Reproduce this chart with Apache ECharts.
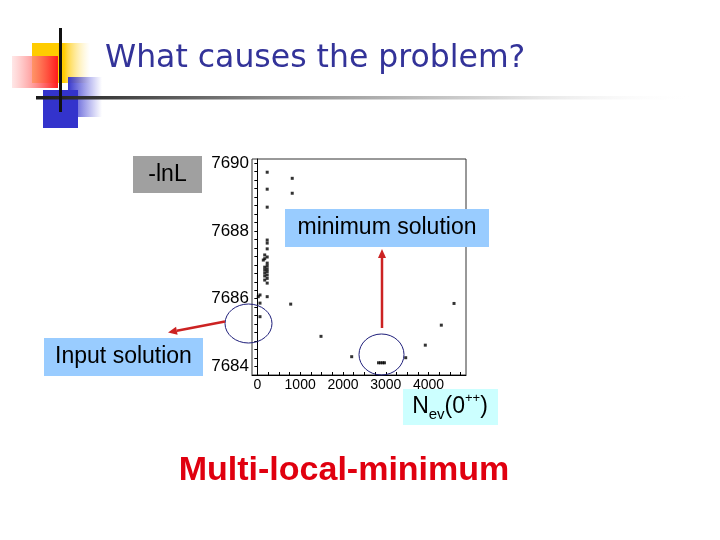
<!DOCTYPE html>
<html>
<head>
<meta charset="utf-8">
<script src="https://cdn.jsdelivr.net/npm/echarts@6/dist/echarts.min.js"></script>
<style>html,body{margin:0;padding:0;background:#fff;}#c{width:720px;height:540px;}</style>
</head>
<body>
<div id="c"></div>
<script>
// ---- data ----
const nev = [230, 815, 230, 815, 230, 230, 230, 230, 172, 172, 139, 172, 172, 172, 172, 172,
             230, 230, 230, 230, 230, 230, 230, 230, 62, 22, 230, 62, 779, 62, 1487, 2204,
             2830, 2880, 2930, 2970, 3466, 3924, 4298, 4595];
const lnL = [7689.73, 7689.55, 7689.23, 7689.11, 7688.70, 7687.73, 7687.64, 7687.47, 7687.29, 7687.18,
             7687.14, 7686.93, 7686.85, 7686.76, 7686.67, 7686.55, 7687.23, 7687.05, 7686.97, 7686.88,
             7686.80, 7686.70, 7686.60, 7686.46, 7686.11, 7686.06, 7686.06, 7685.87, 7685.84, 7685.47,
             7684.89, 7684.29, 7684.11, 7684.11, 7684.11, 7684.11, 7684.26, 7684.63, 7685.22, 7685.86];
const xTickLabels = [0, 1000, 2000, 3000, 4000];
const yTickLabels = [7684, 7686, 7688, 7690];
const titleText = 'What causes the problem?';

const xMinor = []; for (let v = 0; v <= 4750; v += 250) xMinor.push(v);
const yMinor = []; for (let v = 7684; v <= 7690.001; v += 0.25) yMinor.push(+v.toFixed(2));

const chart = echarts.init(document.getElementById('c'), null, {renderer: 'canvas', width: 720, height: 540});

function arrow(x1, y1, x2, y2, color) {
  const a = Math.atan2(y2 - y1, x2 - x1);
  const L = 9, W = 4;
  const bx = x2 - L * Math.cos(a), by = y2 - L * Math.sin(a);
  const px = -Math.sin(a), py = Math.cos(a);
  return [
    {type: 'line', z: 20, shape: {x1: x1, y1: y1, x2: bx, y2: by}, style: {stroke: color, lineWidth: 2.5}},
    {type: 'polygon', z: 20, shape: {points: [[x2, y2], [bx + W * px, by + W * py], [bx - W * px, by - W * py]]}, style: {fill: color}}
  ];
}

function box(x, y, w, h, fill, text, size) {
  return [
    {type: 'rect', z: 15, shape: {x: x, y: y, width: w, height: h}, style: {fill: fill}},
    {type: 'text', z: 16, x: x + w / 2, y: y + h / 2,
     style: {text: text, fill: '#000', font: size + 'px "Liberation Sans", Arial, sans-serif', align: 'center', verticalAlign: 'middle'}}
  ];
}

const graphics = [
  // decoration
  {type: 'rect', z: 1, shape: {x: 32, y: 43, width: 58, height: 40},
   style: {fill: new echarts.graphic.LinearGradient(0, 0, 1, 0, [
     {offset: 0, color: '#ffcc00'}, {offset: 0.55, color: '#ffcc00'}, {offset: 0.62, color: '#ffd94a'}, {offset: 1, color: 'rgba(255,235,160,0)'}])}},
  {type: 'rect', z: 2, shape: {x: 12, y: 56, width: 46, height: 32},
   style: {fill: new echarts.graphic.LinearGradient(0, 0, 1, 0, [
     {offset: 0, color: 'rgba(255,215,215,0.6)'}, {offset: 1, color: '#ff1a1a'}])}},
  {type: 'rect', z: 2, shape: {x: 68, y: 77, width: 34, height: 40},
   style: {fill: new echarts.graphic.LinearGradient(0, 0, 1, 0, [
     {offset: 0, color: '#3838cc'}, {offset: 1, color: 'rgba(80,80,220,0)'}])}},
  {type: 'rect', z: 3, shape: {x: 43, y: 90, width: 35, height: 38}, style: {fill: '#3333cc'}},
  {type: 'rect', z: 4, shape: {x: 36, y: 96, width: 660, height: 3.5},
   style: {fill: new echarts.graphic.LinearGradient(0, 0, 1, 0, [
     {offset: 0, color: '#1a1a1a'}, {offset: 0.35, color: '#888'}, {offset: 0.7, color: '#d8d8d8'}, {offset: 1, color: 'rgba(255,255,255,0)'}])}},
  {type: 'rect', z: 5, shape: {x: 59, y: 28, width: 3, height: 84}, style: {fill: '#111'}},
  {type: 'text', z: 5, x: 105, y: 59,
   style: {text: titleText, fill: '#333399', font: '31.5px "DejaVu Sans", sans-serif', align: 'left', verticalAlign: 'middle'}},
  // circles
  {type: 'ellipse', z: 18, shape: {cx: 248.5, cy: 323.5, rx: 23.5, ry: 19.5}, style: {fill: 'none', stroke: '#1e1e7a', lineWidth: 1}},
  {type: 'ellipse', z: 18, shape: {cx: 381.5, cy: 354.5, rx: 22.5, ry: 20.5}, style: {fill: 'none', stroke: '#1e1e7a', lineWidth: 1}},
  // labels
  ...box(133, 156, 69, 37, '#a0a0a0', '-lnL', 23),
  ...box(285, 209, 204, 38, '#99ccff', 'minimum solution', 23),
  ...box(44, 338, 159, 38, '#99ccff', 'Input solution', 23),
  {type: 'rect', z: 15, shape: {x: 403, y: 389, width: 95, height: 36}, style: {fill: '#ccffff'}},
  {type: 'text', z: 16, x: 450, y: 407,
   style: {text: '{b|N}{sub|ev}{b|(0}{sup|++}{b|)}', align: 'center', verticalAlign: 'middle', fill: '#000',
     rich: {
       b: {fontSize: 23, fontFamily: 'Liberation Sans', lineHeight: 30, fill: '#000'},
       sub: {fontSize: 15, fontFamily: 'Liberation Sans', lineHeight: 30, verticalAlign: 'bottom', fill: '#000'},
       sup: {fontSize: 13, fontFamily: 'Liberation Sans', lineHeight: 30, verticalAlign: 'top', fill: '#000'}
     }}},
  ...arrow(382, 328, 382, 249, '#cc2222'),
  ...arrow(225, 321.5, 168, 332.5, '#cc2222'),
  {type: 'text', z: 16, x: 344, y: 471,
   style: {text: 'Multi-local-minimum', fill: '#e0000f', font: 'bold 34px "Liberation Sans", Arial, sans-serif', align: 'center', verticalAlign: 'middle'}}
];

chart.setOption({
  animation: false,
  backgroundColor: '#fff',
  grid: {left: 252, top: 159, right: 254, bottom: 165, show: true, borderColor: '#333', borderWidth: 1},
  xAxis: {
    type: 'value', min: -125, max: 4875,
    axisLine: {show: true, lineStyle: {color: '#000', width: 1}},
    axisTick: {show: true, inside: true, length: 3, customValues: xMinor, lineStyle: {color: '#000'}},
    axisLabel: {customValues: xTickLabels, formatter: v => String(v), color: '#000', fontSize: 14, fontFamily: 'Liberation Sans', margin: 3},
    splitLine: {show: false}
  },
  yAxis: {
    type: 'value', min: 7683.75, max: 7690.12,
    axisLine: {show: true, lineStyle: {color: '#000', width: 1}},
    axisTick: {show: true, inside: false, length: 3, customValues: yMinor, lineStyle: {color: '#000'}},
    axisLabel: {customValues: yTickLabels, formatter: v => String(v), color: '#000', fontSize: 17, fontFamily: 'Liberation Sans', margin: 3},
    splitLine: {show: false}
  },
  series: [{
    type: 'scatter', symbol: 'rect', symbolSize: [3, 3],
    itemStyle: {color: '#000'},
    data: nev.map((v, i) => [v, lnL[i]])
  }],
  graphic: graphics
});
</script>
</body>
</html>
